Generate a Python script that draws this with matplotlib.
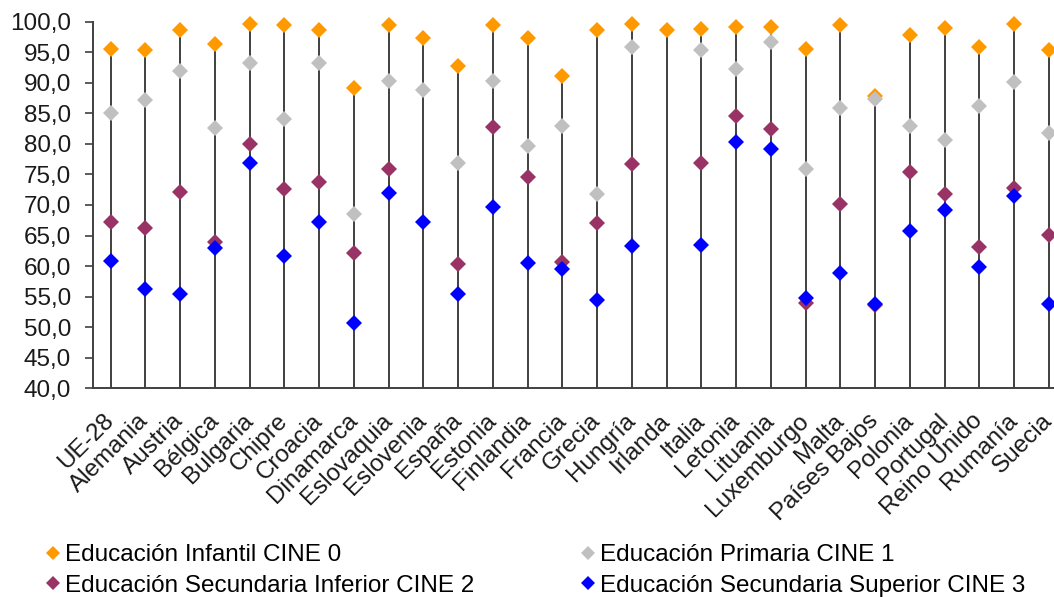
import numpy as np
import matplotlib
matplotlib.use("Agg")
import matplotlib.pyplot as plt
from matplotlib.ticker import FuncFormatter

# Datos
paises = ['UE-28', 'Alemania', 'Austria', 'Bélgica', 'Bulgaria', 'Chipre', 'Croacia',
          'Dinamarca', 'Eslovaquia', 'Eslovenia', 'España', 'Estonia', 'Finlandia',
          'Francia', 'Grecia', 'Hungría', 'Irlanda', 'Italia', 'Letonia', 'Lituania',
          'Luxemburgo', 'Malta', 'Países Bajos', 'Polonia', 'Portugal', 'Reino Unido',
          'Rumanía', 'Suecia']

cine0 = [95.6, 95.4, 98.6, 96.4, 99.6, 99.4, 98.6, 89.1, 99.5, 97.4, 92.7, 99.5, 97.4,
         91.1, 98.6, 99.6, 98.6, 98.8, 99.2, 99.2, 95.6, 99.5, 87.9, 97.9, 99.0, 95.9,
         99.6, 95.4]
cine1 = [85.0, 87.1, 92.0, 82.6, 93.2, 84.0, 93.2, 68.5, 90.3, 88.8, 76.9, 90.3, 79.7,
         83.0, 71.8, 95.9, np.nan, 95.4, 92.3, 96.7, 75.9, 85.8, 87.3, 83.0, 80.6, 86.2,
         90.1, 81.8]
cine2 = [67.2, 66.2, 72.1, 63.9, 80.0, 72.6, 73.7, 62.1, 75.9, np.nan, 60.3, 82.8, 74.5,
         60.7, 67.1, 76.7, np.nan, 76.9, 84.6, 82.4, 53.9, 70.1, 53.7, 75.4, 71.8, 63.1,
         72.8, 65.1]
cine3 = [60.9, 56.2, 55.5, 62.9, 76.8, 61.7, 67.2, 50.7, 72.0, 67.2, 55.4, 69.6, 60.5,
         59.6, 54.4, 63.3, np.nan, 63.5, 80.3, 79.1, 54.7, 58.8, 53.8, 65.7, 69.1, 59.9,
         71.4, 53.8]

series = [
    ('Educación Infantil CINE 0', cine0, '#FF9900'),
    ('Educación Primaria CINE 1', cine1, '#C0C0C0'),
    ('Educación Secundaria Inferior CINE 2', cine2, '#993366'),
    ('Educación Secundaria Superior CINE 3', cine3, '#0000FF'),
]

plt.rcParams['font.family'] = ['Liberation Sans', 'DejaVu Sans']
tam = 17.5

fig = plt.figure(figsize=(10.54, 5.97), dpi=100)
ax = fig.add_axes([0.0885, 0.3496, 0.923, 0.6141])

x = np.arange(len(paises))

# lineas de caida desde el valor maximo hasta el eje
maximos = np.nanmax(np.array([cine0, cine1, cine2, cine3]), axis=0)
ax.vlines(x, 40, maximos, color='#404040', lw=1.4, zorder=1)

handles = {}
for nombre, valores, color in series:
    h, = ax.plot(x, valores, linestyle='none', marker='D', markersize=8.5,
                 color=color, markeredgewidth=0, label=nombre, zorder=3, clip_on=False)
    handles[nombre] = h

ax.set_xlim(-0.5, len(paises) - 0.5)
ax.set_ylim(40, 100)
ax.set_yticks(np.arange(40, 101, 5))
ax.yaxis.set_major_formatter(FuncFormatter(lambda v, p: f'{v:.1f}'.replace('.', ',')))

ax.set_xticks(x)
ax.set_xticklabels(paises, rotation=45, ha='right', va='center', rotation_mode='anchor')
ax.tick_params(axis='x', length=0, pad=21, labelsize=tam, labelcolor='#1a1a1a')
ax.tick_params(axis='y', length=6, width=1.2, pad=10, labelsize=tam, colors='#404040',
               labelcolor='#1a1a1a', direction='out')

for lado in ['top', 'right']:
    ax.spines[lado].set_visible(False)
for lado in ['left', 'bottom']:
    ax.spines[lado].set_color('#404040')
    ax.spines[lado].set_linewidth(1.4)

orden = ['Educación Infantil CINE 0', 'Educación Secundaria Inferior CINE 2',
         'Educación Primaria CINE 1', 'Educación Secundaria Superior CINE 3']
fig.legend([handles[n] for n in orden], orden, ncol=2, loc='upper left',
           bbox_to_anchor=(0.035, 0.105), frameon=False, fontsize=tam,
           handlelength=0.5, handletextpad=0.25, columnspacing=4.45,
           labelspacing=0.36, markerscale=0.85, borderaxespad=0)

fig.savefig('out.png', dpi=100)
